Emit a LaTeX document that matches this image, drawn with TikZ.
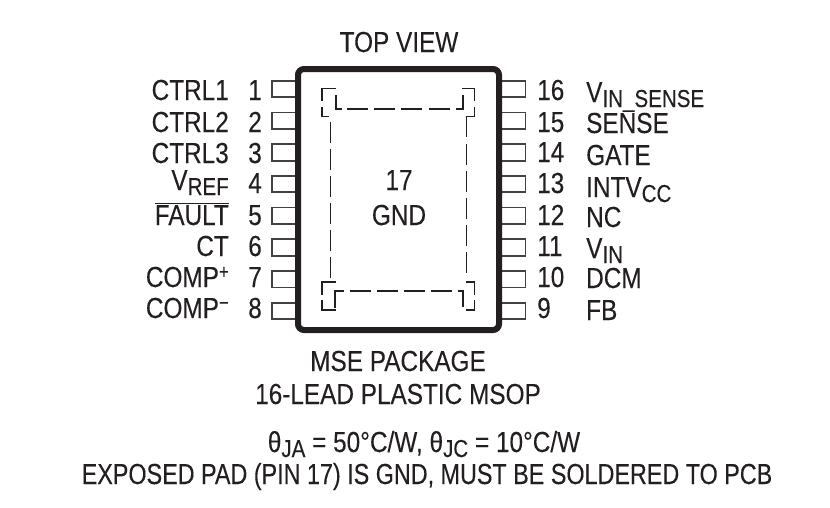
\documentclass[tikz,border=0pt]{standalone}
\usepackage{fontspec}
\setmainfont[FakeStretch=0.84,FakeBold=0.15]{Liberation Sans}
\newfontfamily\notefont[FakeStretch=0.805,FakeBold=0.15]{Liberation Sans}
\definecolor{inkdark}{HTML}{231F20}
\newcommand{\subtxt}[1]{\raisebox{-5pt}{\fontsize{24.5}{24.5}\selectfont #1}}
\newcommand{\suptxt}[1]{\raisebox{8.5pt}{\fontsize{20}{20}\selectfont #1}}
\tikzset{
  lbl/.style={inner sep=0pt, text=inkdark, font=\fontsize{29}{32}\selectfont},
  lblleft/.style={lbl, anchor=base east},
  lblright/.style={lbl, anchor=base west},
  lblmid/.style={lbl, anchor=base},
  pinbox/.style={draw=inkdark!85, line width=1.8pt, minimum width=26pt, minimum height=16.5pt, inner sep=0pt},
  pkgbox/.style={draw=inkdark, line width=6pt, fill=white, rounded corners=6pt, minimum width=201pt, minimum height=261pt, inner sep=0pt},
  padline/.style={draw=inkdark, line width=1.9pt}
}
\begin{document}
\begin{tikzpicture}[x=1pt,y=-1pt]
  \useasboundingbox (0,0) rectangle (830,507);

  % Define pins
  \foreach \n in {0,...,7} {
    \node[pinbox] (pinl\n) at (285,{89+31.7*\n}) {};
    \node[pinbox] (pinr\n) at (512.5,{89+31.7*\n}) {};
  }

  % Package body
  \node[pkgbox] (pkg) at (398.5,199.5) {};

  % Left side
  \foreach \n/\name/\yb in {1/CTRL1/100,2/CTRL2/132,3/CTRL3/163,4/{V\subtxt{REF}}/190,
      5/{$\overline{\mbox{FAULT}}$}/225,6/CT/256,7/{COMP\suptxt{+}}/287,8/{COMP\suptxt{−}}/318} {
    \node[lblleft] (namel\n) at (229,\yb) {\name};
  }
  \foreach \n/\yb in {1/100,2/132,3/163,4/193,5/225,6/256,7/287,8/318} {
    \node[lblleft] (numl\n) at (262,\yb) {\n};
  }

  % Right side
  \foreach \n/\yb in {16/100,15/132,14/162,13/193,12/225,11/256,10/287,9/318} {
    \node[lblright] (numr\n) at (537,\yb) {\n};
  }
  \foreach \n/\name/\yb in {16/{V\subtxt{IN\_SENSE}}/102,15/SENSE/133,14/GATE/165,13/{INTV\subtxt{CC}}/197,
      12/NC/227,11/{V\subtxt{IN}}/258,10/DCM/288,9/FB/320} {
    \node[lblright] (namer\n) at (586,\yb) {\name};
  }

  % Exposed pad, corners
  \draw[padline] (336,88.5) -- (322,88.5) -- (322,101);
  \draw[padline] (322,107) -- (322,116.5) -- (329,116.5);
  \draw[padline] (336,95) -- (336,109) -- (342,109);
  \draw[padline] (463,95) -- (463,109) -- (456,109);
  \draw[padline] (462,88.5) -- (474.5,88.5) -- (474.5,101);
  \draw[padline] (474.5,107) -- (474.5,116.5) -- (466.5,116.5) -- (466.5,137);
  \draw[padline] (336,282) -- (322,282) -- (322,295);
  \draw[padline] (322,300) -- (322,310) -- (336,310);
  \draw[padline] (335,308) -- (335,291) -- (344,291);
  \draw[padline] (463,307) -- (463,291) -- (458,291);
  \draw[padline] (466,282) -- (474.5,282) -- (474.5,295);
  \draw[padline] (474.5,300) -- (474.5,310) -- (466,310);

  % Exposed pad, dashes
  \foreach \xa in {347,374,401,429} {
    \draw[padline] (\xa,109) -- (\xa+21,109);
  }
  \foreach \xa in {350,377,404,431} {
    \draw[padline] (\xa,291) -- (\xa+21,291);
  }
  \foreach \ya in {122,149,176,203,230,257} {
    \draw[padline] (330.5,\ya) -- (330.5,\ya+21);
  }
  \foreach \ya in {144,171,198,225,252} {
    \draw[padline] (466.5,\ya) -- (466.5,\ya+21);
  }

  % Text
  \node[lblmid] (top) at (399,52) {TOP VIEW};
  \node[lblmid] (padnum) at (399,190) {17};
  \node[lblmid] (padgnd) at (399,225) {GND};
  \node[lblmid] (pkgname) at (398,371) {MSE PACKAGE};
  \node[lblmid] (pkgtype) at (398,404) {16-LEAD PLASTIC MSOP};
  \node[lblmid] (thermal) at (424,452) {θ\subtxt{JA} = 50°C/W, θ\subtxt{JC} = 10°C/W};
  \node[lblmid] (note) at (427,484) {\notefont EXPOSED PAD (PIN 17) IS GND, MUST BE SOLDERED TO PCB};
\end{tikzpicture}
\end{document}
